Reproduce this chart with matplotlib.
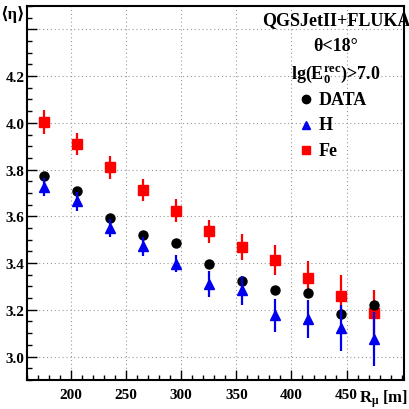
import numpy as np
import matplotlib.pyplot as plt
from matplotlib.ticker import MultipleLocator

# R_mu [m]
r_mu = [175, 205, 235, 265, 295, 325, 355, 385, 415, 445, 475]

# <eta> values
data_y = [3.772, 3.708, 3.594, 3.518, 3.484, 3.396, 3.323, 3.286, 3.273, 3.183, 3.222]
data_err = [0.01, 0.01, 0.01, 0.01, 0.01, 0.01, 0.01, 0.01, 0.01, 0.01, 0.01]

h_y = [3.725, 3.664, 3.550, 3.471, 3.397, 3.309, 3.284, 3.177, 3.160, 3.123, 3.074]
h_err = [0.040, 0.040, 0.040, 0.040, 0.037, 0.055, 0.062, 0.070, 0.080, 0.098, 0.116]

fe_y = [4.003, 3.910, 3.809, 3.714, 3.624, 3.536, 3.469, 3.412, 3.336, 3.257, 3.186]
fe_err = [0.050, 0.046, 0.048, 0.047, 0.048, 0.050, 0.055, 0.064, 0.072, 0.090, 0.100]

plt.rcParams['font.family'] = ['Liberation Serif', 'DejaVu Serif']
plt.rcParams['font.weight'] = 'bold'
plt.rcParams['mathtext.fontset'] = 'custom'
plt.rcParams['mathtext.rm'] = 'Liberation Serif:bold'
plt.rcParams['mathtext.it'] = 'Liberation Serif:bold'
plt.rcParams['mathtext.bf'] = 'Liberation Serif:bold'
plt.rcParams['mathtext.default'] = 'rm'

fig = plt.figure(figsize=(4.1, 4.1), dpi=100)
ax = fig.add_axes([0.066, 0.071, 0.919, 0.912])

ax.errorbar(r_mu, fe_y, yerr=fe_err, fmt='s', color='#ff0000', ms=6.5,
            elinewidth=1.6, capsize=0, zorder=3)
ax.errorbar(r_mu, data_y, yerr=data_err, fmt='o', color='black', ms=6.5,
            elinewidth=1.6, capsize=0, zorder=4)
ax.errorbar(r_mu, h_y, yerr=h_err, fmt='^', color='#0000ee', ms=6.5,
            elinewidth=1.6, capsize=0, zorder=5)

ax.set_xlim(160, 502)
ax.set_ylim(2.9, 4.5)
ax.xaxis.set_minor_locator(MultipleLocator(10))
ax.yaxis.set_minor_locator(MultipleLocator(0.05))
ax.set_xticks([200, 250, 300, 350, 400, 450])
ax.set_xticklabels(['200', '250', '300', '350', '400', '450'])
ax.set_yticks([3.0, 3.2, 3.4, 3.6, 3.8, 4.0, 4.2, 4.4])
ax.set_yticklabels(['3.0', '3.2', '3.4', '3.6', '3.8', '4.0', '4.2', ''])
ax.tick_params(which='both', direction='in', top=False, right=False,
               labelsize=11, width=1)
ax.tick_params(which='major', length=7)
ax.tick_params(which='minor', length=3.5)
ax.tick_params(axis='x', pad=6)
ax.tick_params(axis='y', pad=2)
for lab in ax.get_xticklabels() + ax.get_yticklabels():
    lab.set_fontweight('bold')
for s in ax.spines.values():
    s.set_linewidth(1.5)
ax.grid(True, which='major', color='#999999', linestyle=(0, (1, 2.5)), linewidth=0.8)

# texts
ax.text(0.82, 0.965, 'QGSJetII+FLUKA', transform=ax.transAxes, ha='center',
        va='center', fontsize=13, fontweight='bold')
ax.text(0.82, 0.893, 'θ<18°', transform=ax.transAxes,
        ha='center', va='center', fontsize=13, fontweight='bold')
ax.text(0.82, 0.818, r'lg(E$_{0}^{rec}$)>7.0', transform=ax.transAxes,
        ha='center', va='center', fontsize=13, fontweight='bold')

leg_x = 0.74
for i, (lab, mk, col) in enumerate([('DATA', 'o', 'black'), ('H', '^', '#0000ee'),
                                    ('Fe', 's', '#ff0000')]):
    yy = 0.75 - i * 0.068
    ax.plot([leg_x], [yy], marker=mk, color=col, ms=6, transform=ax.transAxes,
            clip_on=False)
    ax.text(leg_x + 0.035, yy, lab, transform=ax.transAxes, ha='left', va='center',
            fontsize=13, fontweight='bold')

fig.text(0.001, 0.965, '⟨η⟩', ha='left', va='center',
         fontsize=12, fontweight='bold')
fig.text(0.875, 0.0, r'R$_{\mu}$ [m]', ha='left', va='bottom',
         fontsize=12, fontweight='bold')

fig.savefig('out.png', dpi=100)
